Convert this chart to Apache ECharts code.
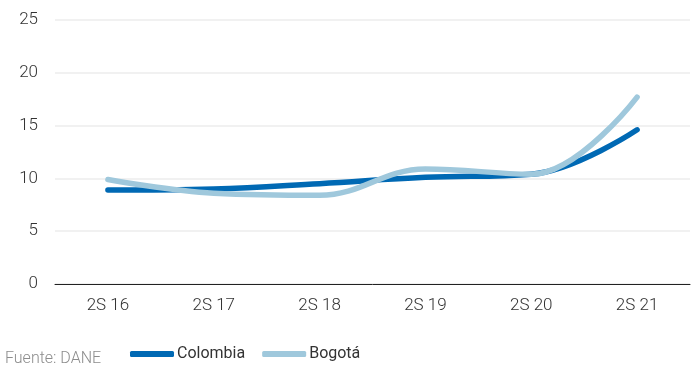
<!DOCTYPE html>
<html><head><meta charset="utf-8">
<script src="https://cdn.jsdelivr.net/npm/echarts@6/dist/echarts.min.js"></script>
<style>html,body{margin:0;padding:0;background:#fff}#c{width:692px;height:368px}</style>
</head><body><div id="c"></div>
<script>
const categories = ['2S 16','2S 17','2S 18','2S 19','2S 20','2S 21'];
const colombia = [8.9, 9.0, 9.5, 10.1, 10.4, 14.6];
const bogota = [9.9, 8.6, 8.4, 10.9, 10.4, 17.7];
const FONT = '"Roboto", sans-serif';
const chart = echarts.init(document.getElementById('c'));
chart.setOption({
  animation: false,
  textStyle: {fontFamily: FONT},
  grid: {left: 55, right: 2, top: 20, bottom: 84},
  graphic: [{type: 'text', left: 5, top: 351, style: {text: 'Fuente: DANE', fill: '#8c8c8c', font: '300 16px ' + FONT}}],
  legend: {
    left: 125, top: 341, itemWidth: 44, itemHeight: 6, itemGap: 17,
    icon: 'roundRect',
    textStyle: {fontSize: 16, color: '#333', fontFamily: FONT, padding: [0, 0, 0, -2]},
    data: ['Colombia', 'Bogotá']
  },
  xAxis: {
    type: 'category', data: categories, boundaryGap: true,
    axisLine: {lineStyle: {color: '#222', width: 1}},
    axisTick: {show: false},
    axisLabel: {fontSize: 17, color: '#333', margin: 13, fontFamily: FONT, fontWeight: 300}
  },
  yAxis: {
    type: 'value', min: 0, max: 25, interval: 5,
    axisLine: {show: false}, axisTick: {show: false},
    splitLine: {lineStyle: {color: '#ececec', width: 1.5}},
    axisLabel: {fontSize: 17, color: '#333', margin: 17, fontFamily: FONT, fontWeight: 300}
  },
  series: [
    {name: 'Colombia', type: 'line', data: colombia, smooth: 0.4, symbol: 'none',
     lineStyle: {color: '#0069b4', width: 5.5, cap: 'round'}, itemStyle: {color: '#0069b4'}, z: 2},
    {name: 'Bogotá', type: 'line', data: bogota, smooth: 0.4, symbol: 'none',
     lineStyle: {color: '#9fc8dc', width: 5.5, cap: 'round'}, itemStyle: {color: '#9fc8dc'}, z: 3}
  ]
});
</script></body></html>
